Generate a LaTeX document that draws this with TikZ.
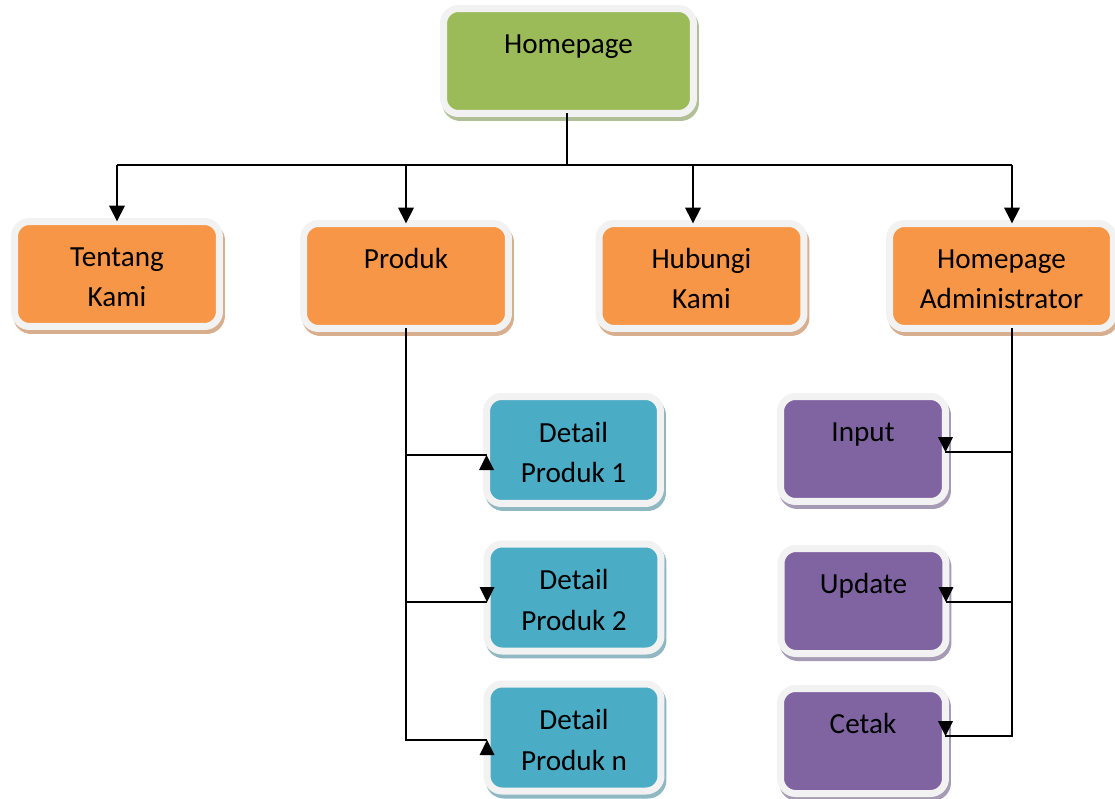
\documentclass[tikz,border=0pt]{standalone}
\usepackage{fontspec}
\setmainfont{Carlito}
\usepackage{tikz}
\usetikzlibrary{arrows.meta, positioning, calc}
\usepackage{xcolor}

\definecolor{hpgreen}{HTML}{9BBB59}
\definecolor{hporange}{HTML}{F79646}
\definecolor{hpblue}{HTML}{4BACC6}
\definecolor{hppurple}{HTML}{8064A2}
\definecolor{rim}{HTML}{F2F2F2}

\newcommand{\tipup}[1]{\fill (#1) -- ++(-7.5,15) -- ++(15,0) -- cycle;}
\newcommand{\tipdown}[1]{\fill (#1) -- ++(-7.5,-15) -- ++(15,0) -- cycle;}

\tikzset{
  menubox/.style={rounded corners=0.3cm, draw=rim, line width=0.14cm, fill=#1,
    outer sep=0pt, inner sep=2pt, align=center, minimum height=2.1cm,
    font=\fontsize{16.6pt}{22.8pt}\selectfont, text height=37pt, text depth=0pt,
    preaction={draw=#1!60!gray!70!white, fill=#1!60!gray!70!white, line width=0.14cm,
      transform canvas={xshift=0.04cm, yshift=-0.08cm}}},
  conn/.style={line width=1.6pt},
  busline/.style={line width=1.1pt},
}

\begin{document}
\begin{tikzpicture}[x=0.02cm, y=-0.02cm, >={Triangle[length=9pt,width=8.6pt]}]
  \useasboundingbox (0,0) rectangle (1115,798);

  % homepage
  \node[menubox=hpgreen, minimum width=5cm] (home) at (568.5,61) {Homepage\\\mbox{}};

  % menu utama
  \node[menubox=hporange, minimum width=4.1cm] (tentang) at (117,274) {Tentang\\Kami};
  \node[menubox=hporange, minimum width=4.1cm] (produk) at (406,276) {Produk\\\mbox{}};
  \node[menubox=hporange, minimum width=4.1cm] (hubungi) at (701.5,276) {Hubungi\\Kami};
  \node[menubox=hporange, minimum width=4.48cm] (admin) at (1001.5,276) {Homepage\\Administrator};

  % detail produk
  \node[menubox=hpblue, minimum width=3.48cm, minimum height=2.14cm] (det1) at (573.5,450) {Detail\\Produk 1};
  \node[menubox=hpblue, minimum width=3.48cm, minimum height=2.14cm] (det2) at (574,597.5) {Detail\\Produk 2};
  \node[menubox=hpblue, minimum width=3.48cm, minimum height=2.14cm] (detn) at (574,737.5) {Detail\\Produk n};

  % menu admin
  \node[menubox=hppurple, minimum width=3.3cm] (input) at (863,449) {Input\\\mbox{}};
  \node[menubox=hppurple, minimum width=3.3cm] (update) at (863.5,601) {Update\\\mbox{}};
  \node[menubox=hppurple, minimum width=3.3cm] (cetak) at (863,741) {Cetak\\\mbox{}};

  % garis ke menu utama
  \coordinate (bus) at (567,165);
  \coordinate (hubin) at ([xshift=-0.17cm]hubungi.north);
  \coordinate (admintop) at ([xshift=0.21cm]admin.north);
  \coordinate (adminbot) at ([xshift=0.21cm]admin.south);
  \draw[busline] (bus |- home.south) -- (bus);
  \draw[busline] (tentang.north |- bus) -- (admintop |- bus);
  \draw[conn,->] (tentang.north |- bus) -- (tentang.north);
  \draw[conn,->] (produk.north |- bus) -- (produk.north);
  \draw[conn,->] (hubin |- bus) -- (hubin);
  \draw[conn,->] (admintop |- bus) -- (admintop);

  % garis ke detail produk
  \coordinate (d1) at ([yshift=-0.1cm]det1.west);
  \coordinate (d2) at ([yshift=-0.09cm]det2.west);
  \coordinate (dn) at ([yshift=-0.05cm]detn.west);
  \draw[conn] (produk.south) -- (produk.south |- dn) -- (dn);
  \draw[conn] (produk.south |- d1) -- (d1);
  \draw[conn] (produk.south |- d2) -- (d2);
  \tipup{d1}
  \tipdown{d2}
  \tipup{dn}

  % garis ke menu admin
  \coordinate (inp) at ([yshift=-0.06cm]input.east);
  \coordinate (upd) at ([yshift=-0.02cm]update.east);
  \coordinate (cet) at ([yshift=0.1cm]cetak.east);
  \draw[conn] (adminbot) -- (adminbot |- cet) -- (cet);
  \draw[conn] (adminbot |- inp) -- (inp);
  \draw[conn] (adminbot |- upd) -- (upd);
  \tipdown{inp}
  \tipdown{upd}
  \tipdown{cet}
\end{tikzpicture}
\end{document}
